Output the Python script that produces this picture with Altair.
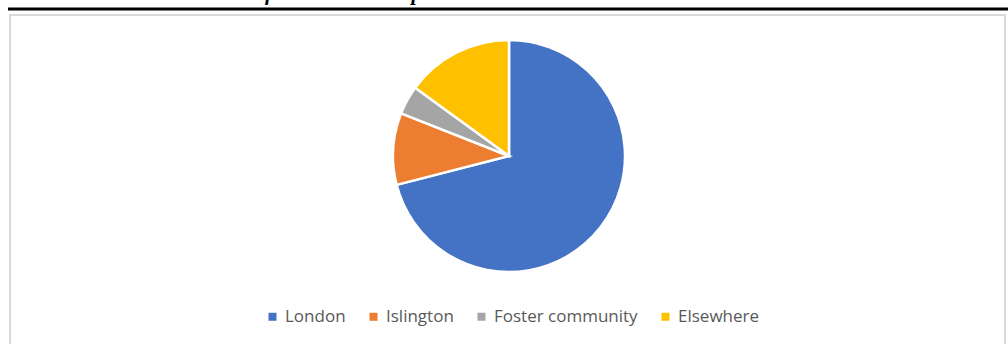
import altair as alt
import pandas as pd

categories = ["London", "Islington", "Foster community", "Elsewhere"]
values = [71, 10, 4, 15]
colors = ["#4472C4", "#ED7D31", "#A5A5A5", "#FFC000"]
caption = "Table 5: Habitual location of the studied sample"

df = pd.DataFrame({"location": categories, "share": values, "order": list(range(len(categories)))})

W, H = 1008, 344

pie = alt.Chart(df).mark_arc(radius=116, stroke="white", strokeWidth=2.5).encode(
    theta=alt.Theta("share:Q", stack=True),
    order=alt.Order("order:Q"),
    color=alt.Color(
        "location:N",
        scale=alt.Scale(domain=categories, range=colors),
        sort=categories,
        legend=alt.Legend(
            title=None,
            orient="none",
            legendX=264,
            legendY=308,
            direction="horizontal",
            symbolType="square",
            symbolSize=64,
            symbolStrokeWidth=0,
            labelFontSize=17,
            labelFont="Open Sans",
            labelColor="#595959",
            columnPadding=19,
            labelOffset=4,
        ),
    ),
    x=alt.value(509),
    y=alt.value(156),
)

box = alt.Chart(pd.DataFrame({"a": [0]})).mark_rect(
    fill="white", stroke="#d9d9d9", strokeWidth=2
).encode(x=alt.value(10), x2=alt.value(1005), y=alt.value(15), y2=alt.value(360))

rule = alt.Chart(pd.DataFrame({"a": [0]})).mark_rule(
    color="black", strokeWidth=3
).encode(x=alt.value(8), x2=alt.value(1008), y=alt.value(9))

title = alt.Chart(pd.DataFrame({"t": [caption]})).mark_text(
    align="left", baseline="alphabetic", font="Liberation Serif", fontSize=21,
    fontStyle="italic", fontWeight="bold", color="black"
).encode(text="t:N", x=alt.value(22), y=alt.value(0))

chart = alt.layer(box, rule, title, pie).properties(
    width=W, height=H, padding=0, autosize=alt.AutoSizeParams(type="none"),
    background="white"
).configure_view(stroke=None)

chart.save("out.html", embed_options={"renderer": "svg", "actions": False})
